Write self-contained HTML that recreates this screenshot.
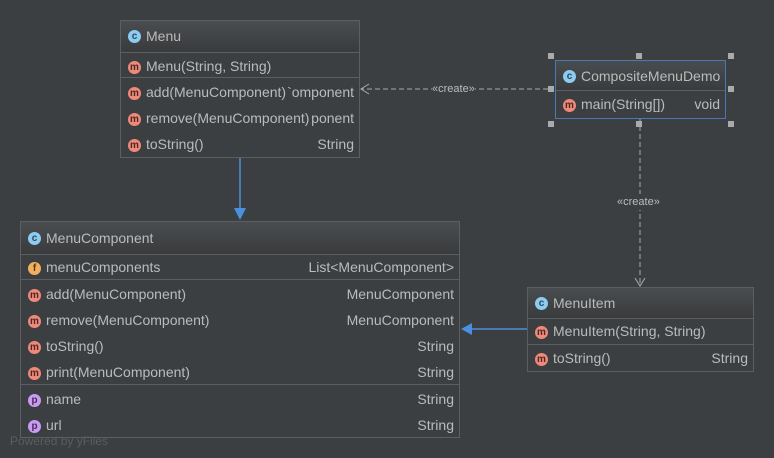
<!DOCTYPE html>
<html><head><style>
body{margin:0;width:774px;height:458px;background:#3c3f41;position:relative;overflow:hidden;font-family:"Liberation Sans",sans-serif;font-size:14px;color:#bbbbbb}
.box{position:absolute;background:#3c3f41;border:1px solid #5c5f61;box-sizing:border-box}
.hd{position:absolute;left:0;right:0;top:0;background:linear-gradient(#4a4d4f,#393b3d);border-bottom:1px solid #5c5f61}
.sep{position:absolute;left:0;right:0;height:1px;background:#5c5f61}
.t{position:absolute;white-space:nowrap;line-height:16px;margin-top:-1px}
.r{position:absolute;right:5px;white-space:nowrap;line-height:16px;background:#3c3f41;margin-top:-1px}
.ic{position:absolute;width:13px;height:13px;border-radius:50%;font-size:10px;line-height:13px;text-align:center;color:#4a2a25;font-weight:bold}
.m{background:#f0897a}.c{background:#8ecbf0;color:#2a4a5c}.f{background:#f0b060;color:#5a3a10}.p{background:#c89cf0;color:#4a2a60}
.ch{position:absolute;width:6px;height:6px;background:#aaa}
</style></head><body>
<svg width="774" height="458" style="position:absolute;left:0;top:0">
<line x1="240" y1="157" x2="240" y2="210" stroke="#4b8fe0" stroke-width="1.5"/>
<polygon points="234,208 246,208 240,220" fill="#4b8fe0"/>
<line x1="527" y1="329" x2="470" y2="329" stroke="#4b8fe0" stroke-width="1.5"/>
<polygon points="472,323 472,335 461,329" fill="#4b8fe0"/>
<line x1="548" y1="89" x2="361" y2="89" stroke="#aaa" stroke-dasharray="5,3"/>
<polyline points="369,84 361,89 369,94" fill="none" stroke="#aaa"/>
<line x1="640" y1="118" x2="640" y2="286" stroke="#aaa" stroke-dasharray="5,3"/>
<polyline points="635,278 640,286 645,278" fill="none" stroke="#aaa"/>
</svg>
<div class="t" style="left:432px;top:82px;font-size:11px;background:#3c3f41">«create»</div>
<div class="t" style="left:617px;top:195px;font-size:11px;background:#3c3f41">«create»</div>

<div class="box" style="left:120px;top:20px;width:240px;height:138px">
<div class="hd" style="height:31px"></div>
<div class="ic c" style="left:7px;top:9px">c</div><div class="t" style="left:25px;top:8px">Menu</div>
<div class="ic m" style="left:7px;top:40px">m</div><div class="t" style="left:25px;top:38px">Menu(String, String)</div>
<div class="sep" style="top:56px"></div>
<div class="ic m" style="left:7px;top:66px">m</div><div class="t" style="left:25px;top:64px">add(MenuComponent)</div><div class="r" style="top:64px">`omponent</div>
<div class="ic m" style="left:7px;top:92px">m</div><div class="t" style="left:25px;top:90px">remove(MenuComponent)</div><div class="r" style="top:90px">ponent</div>
<div class="ic m" style="left:7px;top:118px">m</div><div class="t" style="left:25px;top:116px">toString()</div><div class="r" style="top:116px">String</div>
</div>

<div class="box" style="left:555px;top:60px;width:171px;height:59px;border-color:#4a78b0">
<div class="hd" style="height:29px"></div>
<div class="ic c" style="left:7px;top:9px">c</div><div class="t" style="left:25px;top:8px">CompositeMenuDemo</div>
<div class="ic m" style="left:7px;top:38px">m</div><div class="t" style="left:25px;top:36px">main(String[])</div><div class="r" style="top:36px">void</div>
</div>
<div class="ch" style="left:548px;top:53px"></div><div class="ch" style="left:636px;top:53px"></div><div class="ch" style="left:728px;top:53px"></div>
<div class="ch" style="left:548px;top:86px"></div><div class="ch" style="left:728px;top:86px"></div>
<div class="ch" style="left:548px;top:121px"></div><div class="ch" style="left:636px;top:121px"></div><div class="ch" style="left:728px;top:121px"></div>

<div class="box" style="left:20px;top:221px;width:440px;height:217px">
<div class="hd" style="height:32px"></div>
<div class="ic c" style="left:7px;top:10px">c</div><div class="t" style="left:25px;top:9px">MenuComponent</div>
<div class="ic f" style="left:7px;top:40px">f</div><div class="t" style="left:25px;top:38px">menuComponents</div><div class="r" style="top:38px">List&lt;MenuComponent&gt;</div>
<div class="sep" style="top:57px"></div>
<div class="ic m" style="left:7px;top:67px">m</div><div class="t" style="left:25px;top:65px">add(MenuComponent)</div><div class="r" style="top:65px">MenuComponent</div>
<div class="ic m" style="left:7px;top:93px">m</div><div class="t" style="left:25px;top:91px">remove(MenuComponent)</div><div class="r" style="top:91px">MenuComponent</div>
<div class="ic m" style="left:7px;top:119px">m</div><div class="t" style="left:25px;top:117px">toString()</div><div class="r" style="top:117px">String</div>
<div class="ic m" style="left:7px;top:145px">m</div><div class="t" style="left:25px;top:143px">print(MenuComponent)</div><div class="r" style="top:143px">String</div>
<div class="sep" style="top:162px"></div>
<div class="ic p" style="left:7px;top:172px">p</div><div class="t" style="left:25px;top:170px">name</div><div class="r" style="top:170px">String</div>
<div class="ic p" style="left:7px;top:198px">p</div><div class="t" style="left:25px;top:196px">url</div><div class="r" style="top:196px">String</div>
</div>

<div class="box" style="left:527px;top:287px;width:227px;height:85px">
<div class="hd" style="height:30px"></div>
<div class="ic c" style="left:7px;top:9px">c</div><div class="t" style="left:25px;top:8px">MenuItem</div>
<div class="ic m" style="left:7px;top:38px">m</div><div class="t" style="left:25px;top:36px">MenuItem(String, String)</div>
<div class="sep" style="top:56px"></div>
<div class="ic m" style="left:7px;top:65px">m</div><div class="t" style="left:25px;top:63px">toString()</div><div class="r" style="top:63px">String</div>
</div>

<div class="t" style="left:10px;top:434px;font-size:12px;color:#5a5d5f">Powered by yFiles</div>
</body></html>
